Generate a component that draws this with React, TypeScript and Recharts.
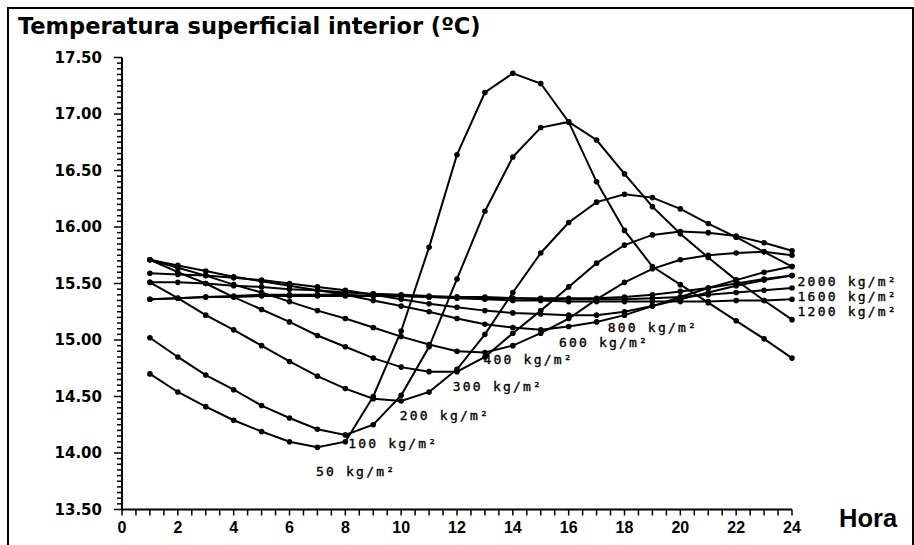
import React from "react";
import { LineChart, Line, XAxis, YAxis, ReferenceDot } from "recharts";

// Hora del día (1..24)
const hours = [1, 2, 3, 4, 5, 6, 7, 8, 9, 10, 11, 12, 13, 14, 15, 16, 17, 18, 19, 20, 21, 22, 23, 24];

// Temperatura superficial interior (ºC) por masa del muro
const t50 = [14.70, 14.54, 14.41, 14.29, 14.19, 14.10, 14.05, 14.10, 14.50, 15.08, 15.82, 16.64, 17.19, 17.36, 17.27, 16.93, 16.40, 15.97, 15.65, 15.49, 15.33, 15.17, 15.01, 14.84];
const t100 = [15.02, 14.85, 14.69, 14.56, 14.42, 14.31, 14.21, 14.16, 14.25, 14.51, 14.94, 15.54, 16.14, 16.62, 16.88, 16.93, 16.77, 16.47, 16.18, 15.94, 15.73, 15.53, 15.35, 15.18];
const t200 = [15.51, 15.37, 15.22, 15.09, 14.95, 14.81, 14.68, 14.57, 14.48, 14.46, 14.54, 14.74, 15.05, 15.42, 15.77, 16.04, 16.22, 16.29, 16.26, 16.16, 16.03, 15.91, 15.78, 15.65];
const t300 = [15.71, 15.60, 15.50, 15.38, 15.27, 15.16, 15.04, 14.94, 14.84, 14.76, 14.72, 14.72, 14.85, 15.06, 15.26, 15.47, 15.68, 15.84, 15.93, 15.96, 15.95, 15.92, 15.86, 15.79];
const t400 = [15.71, 15.64, 15.57, 15.49, 15.42, 15.34, 15.26, 15.19, 15.11, 15.03, 14.96, 14.90, 14.89, 14.95, 15.06, 15.19, 15.36, 15.51, 15.63, 15.71, 15.75, 15.77, 15.78, 15.75];
const t600 = [15.71, 15.66, 15.61, 15.56, 15.52, 15.48, 15.44, 15.40, 15.35, 15.30, 15.25, 15.19, 15.14, 15.11, 15.09, 15.12, 15.16, 15.22, 15.30, 15.38, 15.46, 15.53, 15.60, 15.65];
const t800 = [15.59, 15.58, 15.57, 15.55, 15.53, 15.50, 15.47, 15.44, 15.40, 15.36, 15.32, 15.29, 15.26, 15.24, 15.23, 15.22, 15.22, 15.25, 15.30, 15.36, 15.42, 15.48, 15.53, 15.57];
const t1200 = [15.36, 15.37, 15.38, 15.39, 15.40, 15.40, 15.40, 15.40, 15.39, 15.39, 15.38, 15.37, 15.36, 15.35, 15.35, 15.34, 15.34, 15.34, 15.34, 15.34, 15.34, 15.35, 15.35, 15.36];
const t1600 = [15.36, 15.37, 15.38, 15.38, 15.39, 15.39, 15.39, 15.39, 15.39, 15.39, 15.38, 15.38, 15.37, 15.37, 15.36, 15.36, 15.36, 15.36, 15.37, 15.38, 15.40, 15.42, 15.44, 15.46];
const t2000 = [15.51, 15.51, 15.50, 15.48, 15.47, 15.45, 15.44, 15.42, 15.41, 15.40, 15.39, 15.38, 15.38, 15.37, 15.37, 15.37, 15.37, 15.38, 15.40, 15.43, 15.46, 15.50, 15.54, 15.57];

const seriesKeys = ["m50", "m100", "m200", "m300", "m400", "m600", "m800", "m1200", "m1600", "m2000"];
const seriesValues = [t50, t100, t200, t300, t400, t600, t800, t1200, t1600, t2000];

// etiquetas de las curvas, ancladas en (hora, ºC)
const curveLabels = ["50 kg/m²", "100 kg/m²", "200 kg/m²", "300 kg/m²", "400 kg/m²", "600 kg/m²", "800 kg/m²", "2000 kg/m²", "1600 kg/m²", "1200 kg/m²"];
const labelHours = [6.95, 8.1, 9.95, 11.85, 12.95, 15.65, 17.4, 24.2, 24.2, 24.2];
const labelTemps = [13.8, 14.04, 14.29, 14.55, 14.79, 14.94, 15.07, 15.475, 15.345, 15.215];

const xMajor = [0, 2, 4, 6, 8, 10, 12, 14, 16, 18, 20, 22, 24];
const yMajor = [13.5, 14, 14.5, 15, 15.5, 16, 16.5, 17, 17.5];
const xTicks = Array.from({ length: 49 }, (_, i) => i / 2);
const yTicks = Array.from({ length: 81 }, (_, i) => Math.round((13.5 + i * 0.05) * 100) / 100);

const data = hours.map((h, i) => {
  const row: Record<string, number> = { hora: h };
  seriesKeys.forEach((k, j) => {
    row[k] = seriesValues[j][i];
  });
  return row;
});

function XTick({ x, y, payload }: any) {
  const v = payload.value;
  const major = xMajor.includes(v);
  return (
    <g>
      <line x1={x} x2={x} y1={y} y2={y + 6} stroke="#000" strokeWidth={1.5} />
      {major && (
        <text x={x} y={y + 23} textAnchor="middle" fontFamily="'Liberation Sans', Arial, sans-serif" fontWeight="bold" fontSize={16} fill="#000">
          {v}
        </text>
      )}
    </g>
  );
}

function YTick({ x, y, payload }: any) {
  const v = payload.value;
  const major = yMajor.includes(v);
  return (
    <g>
      <line x1={x - (major ? 8 : 5)} x2={x} y1={y} y2={y} stroke="#000" strokeWidth={1.5} />
      {major && (
        <text x={x - 20} y={y + 5} textAnchor="end" fontFamily="'DejaVu Sans', sans-serif" fontWeight="bold" fontSize={15} fill="#000">
          {v.toFixed(2)}
        </text>
      )}
    </g>
  );
}

function CurveLabel({ cx, cy, text }: any) {
  return (
    <text
      x={cx}
      y={cy}
      fontFamily="'DejaVu Sans Mono', monospace"
      fontSize={13}
      letterSpacing={2.2}
      fill="#000"
      stroke="#000"
      strokeWidth={0.35}
    >
      {text}
    </text>
  );
}

export default function App() {
  return (
    <div style={{ position: "relative", width: 914, height: 545, background: "#fff", overflow: "hidden" }}>
      <style>{`body{margin:0;background:#fff}`}</style>
      <div
        style={{
          position: "absolute",
          left: 7,
          top: 7,
          width: 903,
          height: 560,
          borderTop: "2px solid #000",
          borderLeft: "2px solid #000",
          borderRight: "2px solid #000",
        }}
      />
      <div
        style={{
          position: "absolute",
          left: 18,
          top: 12,
          fontFamily: "'DejaVu Sans', sans-serif",
          fontWeight: "bold",
          fontSize: 22.5,
          lineHeight: "28px",
          color: "#000",
          whiteSpace: "nowrap",
        }}
      >
        Temperatura superficial interior (ºC)
      </div>
      <div
        style={{
          position: "absolute",
          left: 839,
          top: 503,
          fontFamily: "'Liberation Sans', Arial, sans-serif",
          fontWeight: "bold",
          fontSize: 25.5,
          lineHeight: "30px",
          color: "#000",
        }}
      >
        Hora
      </div>
      <div style={{ position: "absolute", left: 0, top: 0 }}>
        <LineChart width={914} height={545} data={data} margin={{ top: 57.5, right: 122, bottom: 5.5, left: 22 }}>
          <XAxis
            dataKey="hora"
            type="number"
            domain={[0, 24]}
            ticks={xTicks}
            interval={0}
            tickSize={0}
            tickMargin={0}
            tickLine={false}
            tick={<XTick />}
            height={30}
            axisLine={{ stroke: "#000", strokeWidth: 2 }}
          />
          <YAxis
            type="number"
            domain={[13.5, 17.5]}
            ticks={yTicks}
            interval={0}
            tickSize={0}
            tickMargin={0}
            tickLine={false}
            tick={<YTick />}
            width={100}
            axisLine={{ stroke: "#000", strokeWidth: 2 }}
            allowDataOverflow
          />
          {seriesKeys.map((k) => (
            <Line
              key={k}
              dataKey={k}
              type="linear"
              stroke="#000"
              strokeWidth={2}
              dot={{ r: 2.8, fill: "#000", stroke: "none" }}
              activeDot={false}
              isAnimationActive={false}
            />
          ))}
          {curveLabels.map((t, i) => (
            <ReferenceDot
              key={t}
              x={labelHours[i]}
              y={labelTemps[i]}
              r={0}
              ifOverflow="visible"
              shape={(p: any) => <CurveLabel cx={p.cx} cy={p.cy} text={t} />}
            />
          ))}
        </LineChart>
      </div>
    </div>
  );
}
